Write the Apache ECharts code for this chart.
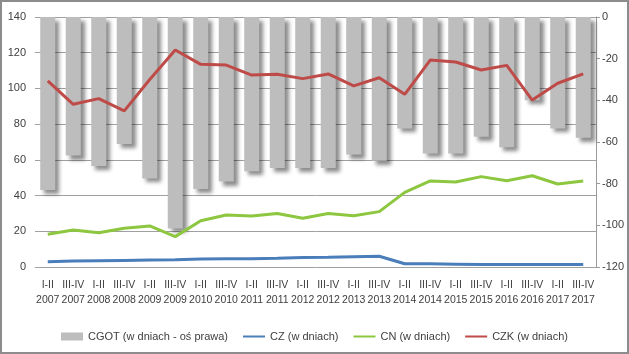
<!DOCTYPE html>
<html>
<head>
<meta charset="utf-8">
<script src="https://cdn.jsdelivr.net/npm/echarts@6/dist/echarts.min.js"></script>
<style>
  html, body { margin: 0; padding: 0; background: #fff; }
  #chart { width: 629px; height: 354px; box-sizing: border-box; border: 2px solid #8c8c8c; }
</style>
</head>
<body>
<div id="chart"></div>
<script>
// kategorie (półrocza)
var categories = [
  'I-II\n2007', 'III-IV\n2007', 'I-II\n2008', 'III-IV\n2008', 'I-II\n2009', 'III-IV\n2009',
  'I-II\n2010', 'III-IV\n2010', 'I-II\n2011', 'III-IV\n2011', 'I-II\n2012', 'III-IV\n2012',
  'I-II\n2013', 'III-IV\n2013', 'I-II\n2014', 'III-IV\n2014', 'I-II\n2015', 'III-IV\n2015',
  'I-II\n2016', 'III-IV\n2016', 'I-II\n2017', 'III-IV\n2017'
];

// CGOT (oś prawa, wartości ujemne)
var cgot = [-83, -66.5, -71.5, -61, -77.5, -101.5, -82.5, -79, -74, -72.5, -72.5, -72.5,
  -66, -69, -53.5, -65.5, -65.5, -57.5, -62.5, -40, -53.5, -58];
var cz = [3, 3.3, 3.5, 3.7, 3.9, 4, 4.5, 4.6, 4.6, 4.9, 5.3, 5.5,
  5.8, 6, 1.8, 1.8, 1.6, 1.4, 1.4, 1.4, 1.4, 1.4];
var cn = [18.3, 20.7, 19.2, 21.7, 23, 17, 25.9, 29.1, 28.6, 30, 27.3, 30,
  28.7, 31, 41.8, 48.2, 47.6, 50.6, 48.3, 51.1, 46.5, 48.2];
var czk = [104.2, 91.1, 94.3, 87.4, 105, 121.5, 113.5, 113.1, 107.5, 107.9, 105.5, 108.1,
  101.4, 106, 96.7, 115.9, 114.8, 110.3, 112.9, 93.5, 102.9, 108.1];

var font = "'Liberation Sans', Arial, sans-serif";
var txt = '#404040';
var noMark = { opacity: 0 };

var chart = echarts.init(document.getElementById('chart'));
chart.setOption({
  animation: false,
  textStyle: { fontFamily: font },
  grid: { left: 33, right: 27, top: 15, height: 250 },
  legend: {
    top: 324,
    left: 'center',
    itemWidth: 22,
    itemHeight: 8,
    itemGap: 14,
    textStyle: { fontFamily: font, fontSize: 11, color: txt },
    data: [
      { name: 'CGOT (w dniach - oś prawa)', icon: 'rect' },
      { name: 'CZ (w dniach)', itemStyle: noMark },
      { name: 'CN (w dniach)', itemStyle: noMark },
      { name: 'CZK (w dniach)', itemStyle: noMark }
    ]
  },
  xAxis: {
    type: 'category',
    data: categories,
    axisLine: { show: false },
    axisTick: { show: false },
    axisLabel: { interval: 0, fontSize: 10.5, color: txt, lineHeight: 15, margin: 11 }
  },
  yAxis: [
    {
      type: 'value', min: 0, max: 140, interval: 20, position: 'left',
      axisLine: { show: false },
      axisTick: { show: false },
      axisLabel: { fontSize: 11, color: txt, margin: 9 },
      splitLine: { lineStyle: { color: '#a0a0a0', width: 1 } }
    },
    {
      type: 'value', min: -120, max: 0, interval: 20, position: 'right',
      axisLine: { show: true, lineStyle: { color: '#9a9a9a' } },
      axisTick: { show: true, length: 4, lineStyle: { color: '#9a9a9a' } },
      axisLabel: { fontSize: 11, color: txt, margin: 6 },
      splitLine: { show: false }
    }
  ],
  series: [
    {
      name: 'CGOT (w dniach - oś prawa)',
      type: 'bar',
      yAxisIndex: 1,
      barWidth: 15,
      data: cgot,
      itemStyle: {
        color: '#bdbdbd',
        shadowColor: 'rgba(0,0,0,0.45)',
        shadowBlur: 4,
        shadowOffsetX: 4,
        shadowOffsetY: 4
      }
    },
    {
      name: 'CZ (w dniach)', type: 'line', data: cz, symbol: 'none',
      color: '#4a7ebb', lineStyle: { width: 3 }
    },
    {
      name: 'CN (w dniach)', type: 'line', data: cn, symbol: 'none',
      color: '#8dc63f', lineStyle: { width: 3 }
    },
    {
      name: 'CZK (w dniach)', type: 'line', data: czk, symbol: 'none',
      color: '#be4b48', lineStyle: { width: 3 }
    }
  ]
});
</script>
</body>
</html>
